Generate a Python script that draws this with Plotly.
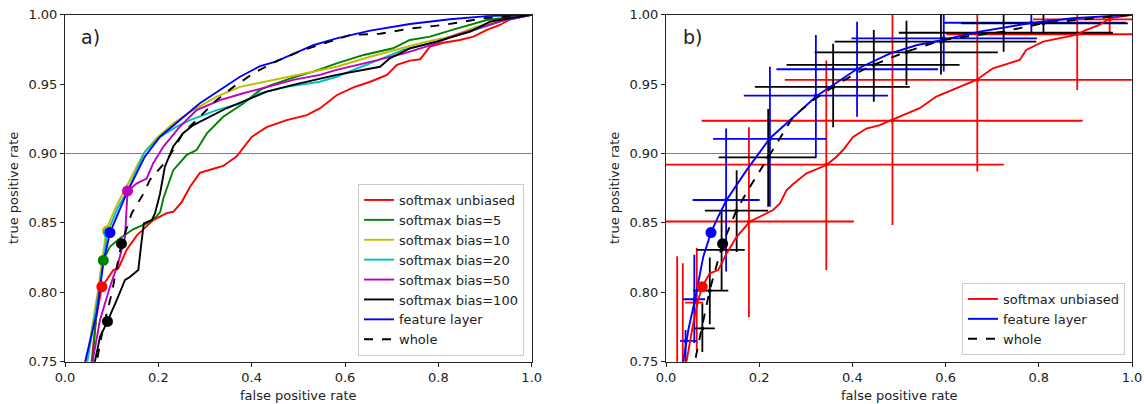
import plotly.graph_objects as go

# ---------------- panel a) ROC curves ----------------
fpr_unbiased = [0.052, 0.057, 0.066, 0.079, 0.1035, 0.114, 0.132, 0.154, 0.189, 0.218, 0.232, 0.250, 0.268, 0.289, 0.318, 0.339, 0.368, 0.400, 0.432, 0.475, 0.518, 0.546, 0.582, 0.618, 0.654, 0.690, 0.711, 0.739, 0.761, 0.782, 0.811, 0.846, 0.875, 0.904, 0.932, 0.954, 1.0]
tpr_unbiased = [0.740, 0.750, 0.780, 0.804, 0.816, 0.817, 0.8305, 0.841, 0.852, 0.857, 0.858, 0.865, 0.876, 0.886, 0.889, 0.891, 0.898, 0.912, 0.919, 0.924, 0.9277, 0.9325, 0.942, 0.9477, 0.9517, 0.9566, 0.9638, 0.9669, 0.9679, 0.977, 0.9798, 0.9818, 0.9842, 0.989, 0.9926, 0.9967, 1.0]

fpr_bias5 = [0.055, 0.059, 0.070, 0.082, 0.0964, 0.118, 0.146, 0.175, 0.196, 0.204, 0.211, 0.232, 0.261, 0.282, 0.304, 0.339, 0.382, 0.418, 0.440, 0.482, 0.532, 0.582, 0.640, 0.703, 0.739, 0.782, 0.839, 0.904, 1.0]
tpr_bias5 = [0.740, 0.750, 0.795, 0.823, 0.833, 0.839, 0.8454, 0.8497, 0.8545, 0.858, 0.868, 0.888, 0.899, 0.9025, 0.9146, 0.9265, 0.936, 0.9458, 0.949, 0.954, 0.959, 0.965, 0.971, 0.9758, 0.9818, 0.9842, 0.990, 0.9962, 1.0]

fpr_bias10 = [0.040, 0.046, 0.070, 0.089, 0.110, 0.132, 0.168, 0.196, 0.232, 0.275, 0.325, 0.375, 0.439, 0.511, 0.582, 0.654, 0.711, 0.761, 0.825, 0.882, 0.939, 1.0]
tpr_bias10 = [0.740, 0.750, 0.800, 0.846, 0.862, 0.876, 0.900, 0.911, 0.9218, 0.9313, 0.941, 0.948, 0.9525, 0.9573, 0.9625, 0.9697, 0.9746, 0.9794, 0.9842, 0.9914, 0.9962, 1.0]

fpr_bias20 = [0.042, 0.048, 0.072, 0.091, 0.112, 0.135, 0.171, 0.2036, 0.239, 0.268, 0.2964, 0.325, 0.375, 0.418, 0.475, 0.546, 0.582, 0.654, 0.725, 0.796, 0.868, 0.939, 1.0]
tpr_bias20 = [0.740, 0.750, 0.800, 0.843, 0.860, 0.874, 0.9013, 0.912, 0.9193, 0.924, 0.9277, 0.9313, 0.936, 0.9434, 0.948, 0.9517, 0.9553, 0.965, 0.9746, 0.9806, 0.9878, 0.9957, 1.0]

fpr_bias50 = [0.055, 0.059, 0.075, 0.0964, 0.114, 0.1286, 0.134, 0.154, 0.175, 0.189, 0.211, 0.246, 0.282, 0.332, 0.382, 0.432, 0.489, 0.546, 0.582, 0.654, 0.725, 0.796, 0.825, 0.882, 0.939, 1.0]
tpr_bias50 = [0.740, 0.750, 0.780, 0.804, 0.821, 0.840, 0.873, 0.8785, 0.882, 0.893, 0.905, 0.9193, 0.9313, 0.9385, 0.9434, 0.948, 0.953, 0.9566, 0.9603, 0.966, 0.972, 0.9794, 0.984, 0.990, 0.9957, 1.0]

fpr_bias100 = [0.061, 0.064, 0.075, 0.091, 0.111, 0.1286, 0.139, 0.157, 0.164, 0.169, 0.186, 0.193, 0.2036, 0.214, 0.232, 0.253, 0.275, 0.311, 0.346, 0.389, 0.432, 0.489, 0.546, 0.582, 0.675, 0.696, 0.739, 0.796, 0.868, 0.911, 1.0]
tpr_bias100 = [0.740, 0.750, 0.768, 0.779, 0.7945, 0.809, 0.811, 0.816, 0.8365, 0.8497, 0.852, 0.857, 0.871, 0.8905, 0.905, 0.9146, 0.9205, 0.9265, 0.9326, 0.9385, 0.9446, 0.9494, 0.9535, 0.9566, 0.9625, 0.9686, 0.9758, 0.9806, 0.9878, 0.995, 1.0]

fpr_feature = [0.036, 0.043, 0.068, 0.082, 0.0964, 0.132, 0.171, 0.2036, 0.239, 0.289, 0.332, 0.375, 0.418, 0.450, 0.532, 0.582, 0.654, 0.739, 0.825, 0.904, 1.0]
tpr_feature = [0.740, 0.750, 0.785, 0.821, 0.843, 0.8713, 0.8977, 0.9121, 0.9218, 0.9362, 0.9458, 0.9553, 0.963, 0.966, 0.978, 0.983, 0.9885, 0.9933, 0.9967, 0.999, 1.0]

fpr_whole = [0.064, 0.068, 0.082, 0.100, 0.121, 0.143, 0.168, 0.182, 0.218, 0.253, 0.289, 0.325, 0.361, 0.404, 0.450, 0.511, 0.611, 0.675, 0.739, 0.811, 0.896, 1.0]
tpr_whole = [0.740, 0.750, 0.775, 0.799, 0.835, 0.857, 0.871, 0.881, 0.895, 0.9146, 0.9265, 0.9385, 0.948, 0.9578, 0.966, 0.9746, 0.9854, 0.9863, 0.990, 0.9926, 0.9974, 1.0]

# operating points (dots) panel a
dot_names_a = ["softmax unbiased", "softmax bias=5", "softmax bias=10", "softmax bias=20",
               "softmax bias=50", "softmax bias=100", "feature layer", "whole"]
dot_fpr_a = [0.079, 0.082, 0.091, 0.093, 0.134, 0.091, 0.0964, 0.121]
dot_tpr_a = [0.804, 0.823, 0.8444, 0.843, 0.873, 0.779, 0.843, 0.835]

# ---------------- panel b) ROC curves with uncertainty ----------------
fpr_unbiased_b = [0.040, 0.044, 0.0585, 0.069, 0.0778, 0.094, 0.112, 0.130, 0.1516, 0.180, 0.2086, 0.230, 0.2444, 0.2587, 0.273, 0.3016, 0.3445, 0.366, 0.380, 0.4015, 0.430, 0.4587, 0.487, 0.5445, 0.580, 0.616, 0.666, 0.7016, 0.7374, 0.759, 0.773, 0.809, 0.880, 0.902, 0.930, 0.952, 1.0]
tpr_unbiased_b = [0.740, 0.750, 0.7777, 0.7945, 0.804, 0.8137, 0.816, 0.828, 0.840, 0.851, 0.8557, 0.8593, 0.8641, 0.8737, 0.878, 0.8857, 0.8917, 0.8977, 0.9025, 0.912, 0.918, 0.9205, 0.9245, 0.9326, 0.941, 0.9458, 0.953, 0.9614, 0.965, 0.9674, 0.9746, 0.9806, 0.9854, 0.989, 0.9926, 0.9974, 1.0]

fpr_feature_b = [0.033, 0.037, 0.048, 0.062, 0.080, 0.0965, 0.112, 0.130, 0.173, 0.223, 0.266, 0.323, 0.3587, 0.409, 0.480, 0.537, 0.594, 0.673, 0.780, 0.873, 1.0]
tpr_feature_b = [0.740, 0.750, 0.773, 0.7945, 0.8257, 0.843, 0.8545, 0.8665, 0.888, 0.911, 0.924, 0.9414, 0.9494, 0.9607, 0.972, 0.978, 0.9818, 0.9878, 0.9938, 0.9974, 1.0]

fpr_whole_b = [0.059, 0.062, 0.0765, 0.094, 0.1215, 0.1516, 0.176, 0.2193, 0.273, 0.316, 0.3587, 0.4015, 0.4445, 0.516, 0.594, 0.644, 0.723, 0.809, 0.887, 1.0]
tpr_whole_b = [0.740, 0.750, 0.774, 0.8017, 0.835, 0.8593, 0.8737, 0.8977, 0.9265, 0.9385, 0.948, 0.9566, 0.9638, 0.9733, 0.9818, 0.9842, 0.9878, 0.9938, 0.9962, 1.0]

# uncertainty crosses: centre, low and high bounds
red_cx = [0.024, 0.036, 0.066, 0.178, 0.344, 0.486, 0.668, 0.8825, 0.952]
red_cy = [0.700, 0.735, 0.7925, 0.851, 0.892, 0.9236, 0.953, 0.9859, 0.9967]
red_x_lo = [0.000, 0.000, 0.041, 0.000, 0.000, 0.0765, 0.255, 0.6017, 0.7875]
red_x_hi = [0.050, 0.070, 0.080, 0.403, 0.725, 0.894, 1.000, 1.000, 1.000]
red_y_lo = [0.600, 0.650, 0.758, 0.782, 0.816, 0.8485, 0.887, 0.9457, 0.9854]
red_y_hi = [0.826, 0.821, 0.832, 0.919, 0.967, 1.000, 1.000, 1.000, 1.000]

blue_cx = [0.042, 0.0607, 0.129, 0.223, 0.3216, 0.410, 0.596, 0.784]
blue_cy = [0.765, 0.795, 0.8665, 0.9105, 0.9417, 0.9607, 0.983, 0.9942]
blue_x_lo = [0.030, 0.036, 0.057, 0.101, 0.167, 0.237, 0.398, 0.596]
blue_x_hi = [0.066, 0.084, 0.201, 0.3445, 0.4766, 0.584, 0.796, 0.9876]
blue_y_lo = [0.720, 0.7635, 0.815, 0.8617, 0.8977, 0.9265, 0.959, 0.9866]
blue_y_hi = [0.7728, 0.827, 0.918, 0.9625, 0.9854, 0.995, 1.000, 1.000]

black_cx = [0.078, 0.094, 0.1193, 0.1516, 0.2193, 0.3587, 0.4459, 0.516, 0.590, 0.7245, 0.810]
black_cy = [0.774, 0.8012, 0.8305, 0.8588, 0.8972, 0.948, 0.9638, 0.9729, 0.9806, 0.987, 0.9938]
black_x_lo = [0.060, 0.0585, 0.066, 0.0836, 0.113, 0.1908, 0.2587, 0.319, 0.362, 0.4995, 0.634]
black_x_hi = [0.105, 0.1336, 0.169, 0.2193, 0.323, 0.523, 0.630, 0.712, 0.7946, 0.959, 0.991]
black_y_lo = [0.757, 0.777, 0.8017, 0.829, 0.8617, 0.919, 0.9373, 0.9494, 0.957, 0.9733, 0.9866]
black_y_hi = [0.792, 0.825, 0.8588, 0.888, 0.932, 0.979, 0.989, 0.9957, 1.000, 1.000, 1.000]

dot_fpr_b = [0.0778, 0.0965, 0.1215]
dot_tpr_b = [0.804, 0.843, 0.835]

x_ticks = [0.0, 0.2, 0.4, 0.6, 0.8, 1.0]
y_ticks = [0.75, 0.80, 0.85, 0.90, 0.95, 1.00]

# ---------------- styles ----------------
C_RED = "#ff0000"
C_GREEN = "#008000"
C_YELLOW = "#bfbf00"
C_CYAN = "#00bfbf"
C_MAG = "#bf00bf"
C_BLACK = "#000000"
C_BLUE = "#0000ff"
FONT = "DejaVu Sans"
FS = 13
LW = 1.9

fig = go.Figure()

curves_a = [
    ("softmax unbiased", fpr_unbiased, tpr_unbiased, C_RED, "solid"),
    ("softmax bias=5", fpr_bias5, tpr_bias5, C_GREEN, "solid"),
    ("softmax bias=10", fpr_bias10, tpr_bias10, C_YELLOW, "solid"),
    ("softmax bias=20", fpr_bias20, tpr_bias20, C_CYAN, "solid"),
    ("softmax bias=50", fpr_bias50, tpr_bias50, C_MAG, "solid"),
    ("softmax bias=100", fpr_bias100, tpr_bias100, C_BLACK, "solid"),
    ("feature layer", fpr_feature, tpr_feature, C_BLUE, "solid"),
    ("whole", fpr_whole, tpr_whole, C_BLACK, "dash"),
]
colors_a = [c[3] for c in curves_a]
for name, fx, ty, col, dash in curves_a:
    fig.add_trace(go.Scatter(x=fx, y=ty, mode="lines", name=name,
                             line=dict(color=col, width=LW, dash=dash),
                             xaxis="x", yaxis="y", legend="legend"))
fig.add_trace(go.Scatter(x=dot_fpr_a, y=dot_tpr_a, mode="markers", showlegend=False,
                         marker=dict(color=colors_a, size=11),
                         xaxis="x", yaxis="y", hoverinfo="skip"))

# panel b: crosses first
def cross(cx, cy, xlo, xhi, ylo, yhi, col):
    fig.add_trace(go.Scatter(
        x=cx, y=cy, mode="markers", showlegend=False,
        marker=dict(color=col, size=4),
        error_x=dict(type="data", symmetric=False,
                     array=[h - c for h, c in zip(xhi, cx)],
                     arrayminus=[c - l for c, l in zip(cx, xlo)],
                     color=col, thickness=1.8, width=0),
        error_y=dict(type="data", symmetric=False,
                     array=[h - c for h, c in zip(yhi, cy)],
                     arrayminus=[c - l for c, l in zip(cy, ylo)],
                     color=col, thickness=1.8, width=0),
        xaxis="x2", yaxis="y2", hoverinfo="skip"))

cross(red_cx, red_cy, red_x_lo, red_x_hi, red_y_lo, red_y_hi, C_RED)
cross(blue_cx, blue_cy, blue_x_lo, blue_x_hi, blue_y_lo, blue_y_hi, C_BLUE)
cross(black_cx, black_cy, black_x_lo, black_x_hi, black_y_lo, black_y_hi, C_BLACK)

curves_b = [
    ("softmax unbiased", fpr_unbiased_b, tpr_unbiased_b, C_RED, "solid"),
    ("feature layer", fpr_feature_b, tpr_feature_b, C_BLUE, "solid"),
    ("whole", fpr_whole_b, tpr_whole_b, C_BLACK, "dash"),
]
for name, fx, ty, col, dash in curves_b:
    fig.add_trace(go.Scatter(x=fx, y=ty, mode="lines", name=name,
                             line=dict(color=col, width=LW, dash=dash),
                             xaxis="x2", yaxis="y2", legend="legend2"))
fig.add_trace(go.Scatter(x=dot_fpr_b, y=dot_tpr_b, mode="markers", showlegend=False,
                         marker=dict(color=[C_RED, C_BLUE, C_BLACK], size=11),
                         xaxis="x2", yaxis="y2", hoverinfo="skip"))

W, H = 1144, 404
def px(v):
    return v / W
def py(v):
    return 1 - v / H

ax_common = dict(showline=True, linecolor="#222222", linewidth=1, mirror=True,
                 ticks="outside", ticklen=4, tickwidth=1, tickcolor="#222222",
                 showgrid=False, zeroline=False, automargin=False,
                 ticklabeloverflow="allow",
                 tickfont=dict(family=FONT, size=FS, color="#222222"))

top, bottom = 14.7, 361.7
fig.update_layout(
    width=W, height=H, margin=dict(l=0, r=0, t=0, b=0),
    paper_bgcolor="white", plot_bgcolor="white",
    font=dict(family=FONT, size=FS, color="#222222"),
    xaxis=dict(domain=[px(65), px(531.7)], range=[0, 1], tickvals=x_ticks,
               tickformat=".1f", anchor="y", **ax_common),
    yaxis=dict(domain=[py(bottom), py(top)], range=[0.75, 1.0], tickvals=y_ticks,
               tickformat=".2f", anchor="x", **ax_common),
    xaxis2=dict(domain=[px(666), px(1132)], range=[0, 1], tickvals=x_ticks,
                tickformat=".1f", anchor="y2", **ax_common),
    yaxis2=dict(domain=[py(bottom), py(top)], range=[0.75, 1.0], tickvals=y_ticks,
                tickformat=".2f", anchor="x2", **ax_common),
    legend=dict(x=px(524), y=py(356), xanchor="right", yanchor="bottom",
                bgcolor="rgba(255,255,255,0.85)", bordercolor="#cccccc", borderwidth=1,
                font=dict(family=FONT, size=FS, color="#222222"), tracegroupgap=0),
    legend2=dict(x=px(1125), y=py(355), xanchor="right", yanchor="bottom",
                 bgcolor="rgba(255,255,255,0.85)", bordercolor="#cccccc", borderwidth=1,
                 font=dict(family=FONT, size=FS, color="#222222"), tracegroupgap=0),
    shapes=[
        dict(type="line", xref="x domain", yref="y", x0=0, x1=1, y0=0.9, y1=0.9,
             line=dict(color="#808080", width=1), layer="below"),
        dict(type="line", xref="x2 domain", yref="y2", x0=0, x1=1, y0=0.9, y1=0.9,
             line=dict(color="#808080", width=1), layer="below"),
    ],
    annotations=[
        dict(text="a)", x=px(79), y=py(37), xref="paper", yref="paper", showarrow=False,
             xanchor="left", yanchor="middle", font=dict(size=19, family=FONT, color="#222222")),
        dict(text="b)", x=px(681), y=py(37), xref="paper", yref="paper", showarrow=False,
             xanchor="left", yanchor="middle", font=dict(size=19, family=FONT, color="#222222")),
        dict(text="false positive rate", x=px(298), y=py(395), xref="paper", yref="paper",
             showarrow=False, xanchor="center", yanchor="middle", font=dict(size=FS, family=FONT)),
        dict(text="false positive rate", x=px(899), y=py(395), xref="paper", yref="paper",
             showarrow=False, xanchor="center", yanchor="middle", font=dict(size=FS, family=FONT)),
        dict(text="true positive rate", x=px(13), y=py(188), xref="paper", yref="paper",
             showarrow=False, textangle=-90, xanchor="center", yanchor="middle",
             font=dict(size=FS, family=FONT)),
        dict(text="true positive rate", x=px(614), y=py(188), xref="paper", yref="paper",
             showarrow=False, textangle=-90, xanchor="center", yanchor="middle",
             font=dict(size=FS, family=FONT)),
    ],
)

# remove the default page margin so the figure fills the window exactly
fig.write_html("out.html", config={"displayModeBar": False},
               post_script="document.body.style.margin='0px';")
